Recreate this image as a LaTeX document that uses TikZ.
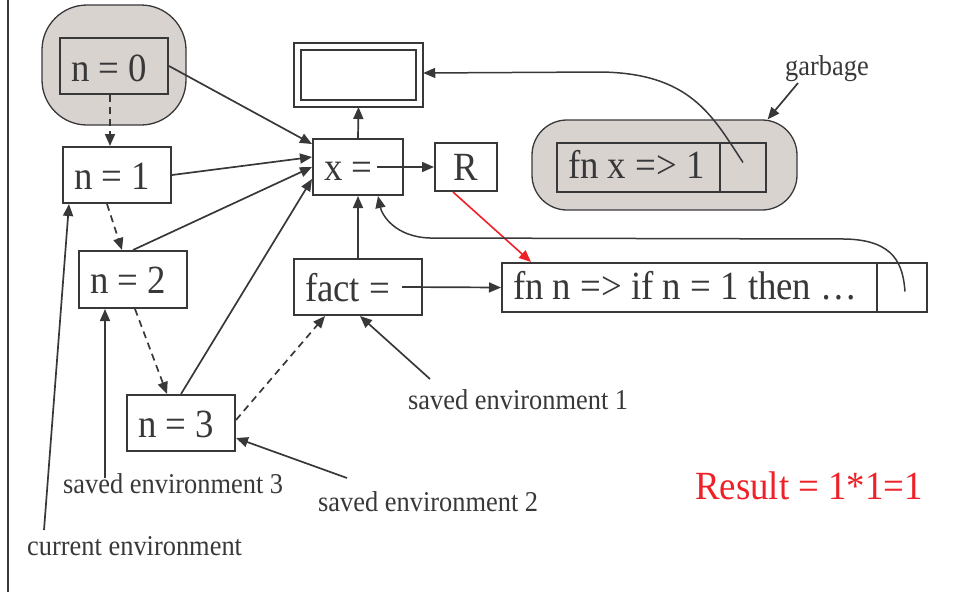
\documentclass[tikz,border=0pt]{standalone}
\usepackage{fontspec}
\setmainfont[FakeStretch=0.92]{Liberation Serif}
\usetikzlibrary{arrows.meta,calc}
\definecolor{ink}{HTML}{38383A}
\definecolor{blobgray}{HTML}{D9D3D0}
\definecolor{hotred}{HTML}{EE2028}

% left-aligned content of a given width inside a box
\newcommand\leftin[2]{\makebox[#1][l]{#2}}

\tikzset{
  boxtext/.style={font=\fontsize{40}{44}\selectfont, text=ink, text height=28pt, text depth=0pt},
  cellbox/.style={draw=ink, line width=2pt, inner sep=0pt, boxtext},
  leftbox/.style={cellbox, inner xsep=11pt},
  blob/.style={draw=ink, line width=1.3pt, fill=blobgray, inner sep=0pt},
  conn/.style={draw=ink, line width=1.7pt, -{Triangle[length=12pt,width=10pt]}},
  dashconn/.style={conn, dash pattern=on 7pt off 5pt},
  curveconn/.style={conn, line width=1.5pt},
  redconn/.style={draw=hotred, color=hotred, line width=1.6pt, -{Triangle[length=12pt,width=10pt]}},
  lbl/.style={font=\fontsize{28.7}{32}\selectfont, text=ink, inner sep=0pt},
}

\begin{document}
\begin{tikzpicture}[x=1pt,y=-1pt]
\useasboundingbox (0,0) rectangle (954,592);

% frame edge on the left
\draw[ink, line width=2.5pt] (8,0) -- (8,592);

% shaded regions
\node[blob, rounded corners=45pt, minimum width=144pt, minimum height=120pt] (oldenv) at (114,65) {};
\node[blob, rounded corners=35pt, minimum width=265pt, minimum height=90pt] (gblob) at (664.5,165) {};

% environment frames
\node[leftbox, minimum width=108pt, minimum height=56pt, text height=30pt] (n0) at (114,66) {\leftin{86pt}{n = 0}};
\node[leftbox, minimum width=108pt, minimum height=56pt] (n1) at (117,175) {\leftin{86pt}{n = 1}};
\node[leftbox, minimum width=108pt, minimum height=57pt] (n2) at (133,279.5) {\leftin{86pt}{n = 2}};
\node[leftbox, minimum width=108pt, minimum height=56pt] (n3) at (181,423) {\leftin{86pt}{n = 3}};

% bindings
\node[leftbox, minimum width=90pt, minimum height=56pt, text height=26pt] (xeq) at (358,167) {\leftin{68pt}{x =}};
\node[leftbox, minimum width=128pt, minimum height=56pt] (fact) at (358,287) {\leftin{106pt}{fact =}};
\node[cellbox, minimum width=62pt, minimum height=48pt, text height=26pt] (R) at (466,167) {R};
\node[draw=ink, line width=2pt, double, double distance=5pt, inner sep=0pt, outer sep=3.5pt,
      minimum width=122.5pt, minimum height=57pt] (dbl) at (358.5,75) {};

% closures
\node[leftbox, minimum width=375pt, minimum height=49pt, text height=23pt] (fnn) at (689.5,287.5) {\leftin{353pt}{fn n => if n = 1 then …}};
\node[cellbox, minimum width=50pt, minimum height=49pt] (fnncell) at (902,287.5) {};
\node[leftbox, minimum width=163pt, minimum height=49pt, text height=22pt] (fnx) at (638.5,167.5) {\leftin{141pt}{fn x => 1}};
\node[cellbox, minimum width=46pt, minimum height=49pt] (fnxcell) at (743,167.5) {};

% labels
\node[lbl, anchor=base west] (garb) at (785,75) {garbage};
\node[lbl, anchor=base west] (se1) at (408,409) {saved environment 1};
\node[lbl, anchor=base west] (se2) at (318,511) {saved environment 2};
\node[lbl, anchor=base west] (se3) at (63,493) {saved environment 3};
\node[lbl, anchor=base west] (cur) at (27,555) {current environment};
\node[anchor=base west, inner sep=0pt, text=hotred, font=\fontsize{40}{44}\selectfont] (res) at (695,499) {Result = 1*1=1};

% parent links into x =
\draw[conn] (n0.east) -- ([yshift=-6pt]xeq.north west);
\draw[conn] (n1.east) -- ([yshift=-19pt]xeq.north west);
\draw[conn] (n2.north) -- ([yshift=-29pt]xeq.north west);
\draw[conn] (n3.north) -- ([yshift=-41pt]xeq.north west);

% dynamic chain
\draw[dashconn] ([xshift=-4pt]n0.south) -- ([xshift=-7pt]n1.north);
\draw[dashconn] ([xshift=-10pt]n1.south) -- ([xshift=-11pt]n2.north);
\draw[dashconn] ([xshift=2pt]n2.south) -- ([xshift=-14pt]n3.north);
\draw[dashconn] ([yshift=3pt]n3.east) -- ([xshift=-33pt]fact.south);

% bindings
\draw[conn] (fact.north) -- (xeq.south);
\draw[conn] (xeq.north) -- (dbl.south);
\draw[conn] ([xshift=19pt]xeq.center) -- (R.west);
\draw[conn] ([xshift=44pt]fact.center) -- (fnn.west);
\draw[redconn] ([xshift=-13pt]R.south) -- ([xshift=30pt]fnn.north west);

% closure environment pointers
\draw[curveconn] ([xshift=3pt,yshift=-4pt]fnncell.center)
  .. controls (903,265) and (895,240) .. (845,239) -- (430,238)
  .. controls (395,237) and (382,215) .. ([xshift=20pt]xeq.south);
\draw[curveconn] ([yshift=5pt]fnxcell.center)
  .. controls (712,115) and (690,73) .. (600,72) -- ([yshift=2pt]dbl.east);

% label pointers
\coordinate (gtail) at (798,83);
\coordinate (t1) at (430,379);
\coordinate (t2) at (347,478);
\coordinate (t3) at (105,478);
\coordinate (t4) at (44,530);
\draw[conn] (gtail) -- ([xshift=-30pt]gblob.north east);
\draw[conn] (t1) -- ([xshift=2pt]fact.south);
\draw[conn] (t2) -- ([yshift=-15pt]n3.east);
\draw[conn] (t3) -- ([xshift=-28pt]n2.south);
\draw[conn] (t4) -- ([xshift=7pt]n1.south west);
\end{tikzpicture}
\end{document}
